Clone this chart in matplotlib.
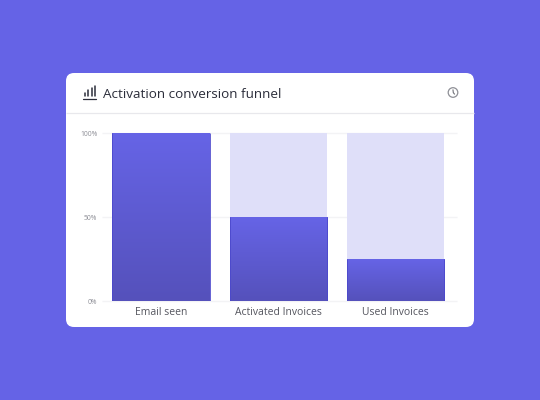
import numpy as np
import matplotlib
matplotlib.use("Agg")
import matplotlib.pyplot as plt
from matplotlib.patches import FancyBboxPatch, Circle
from matplotlib.colors import LinearSegmentedColormap

title = "Activation conversion funnel"
categories = ["Email seen", "Activated Invoices", "Used Invoices"]
values = [100, 50, 25]
track = [100, 100, 100]
yticks = [0, 50, 100]
ytick_labels = ["0%", "50%", "100%"]

BG = "#6563e6"
plt.rcParams["font.family"] = ["Open Sans", "DejaVu Sans"]
fig = plt.figure(figsize=(5.4, 4.0), dpi=100, facecolor=BG)

# pixel-space overlay for card and header
ov = fig.add_axes([0, 0, 1, 1], zorder=0)
ov.set_xlim(0, 540); ov.set_ylim(400, 0); ov.axis("off")
ov.add_patch(FancyBboxPatch((66 + 8, 73 + 8), 408 - 16, 254 - 16,
                            boxstyle="round,pad=8,rounding_size=8",
                            fc="white", ec="none"))
ov.plot([66, 474], [113, 113], color="#e8e8ec", lw=0.9, solid_capstyle="butt")
ov.text(102.8, 93.5, title, fontsize=9.7, color="#2b2d3a", va="center_baseline", ha="left")

# chart icon
ic = "#2b2d3a"
ov.plot([83.3, 96], [98.5, 98.5], color=ic, lw=0.9, solid_capstyle="round")
for x, top in zip([85.2, 88.4, 91.6, 94.6], [93, 90, 88, 86]):
    ov.plot([x, x], [96, top], color=ic, lw=1.1, solid_capstyle="round")

# clock icon
ov.add_patch(Circle((453, 92.5), 4.8, fc="none", ec="#8e8f96", lw=0.9))
ov.plot([453, 453.3, 454.4], [90, 92.6, 94], color="#6f7077", lw=0.8)

# chart
L, R, T, B = 102, 457, 133, 301
ax = fig.add_axes([L / 540, 1 - B / 400, (R - L) / 540, (B - T) / 400], zorder=1)
ax.patch.set_alpha(0)
step = 117.25
ax.set_xlim((L - 161) / step, (R - 161) / step)
ax.set_ylim(0, 100)
for s in ax.spines.values():
    s.set_visible(False)

x = np.arange(len(categories))
w = 97.5 / step
ax.bar(x, track, width=w, color="#dfdff9", zorder=2)
cmap = LinearSegmentedColormap.from_list("g", ["#5551bb", "#6664e6"])
grad = np.linspace(0, 1, 256).reshape(-1, 1)
for xi, v in zip(x, values):
    ax.imshow(grad, origin="lower", aspect="auto", cmap=cmap, zorder=3,
              extent=[xi - w / 2, xi + w / 2, 0, v])
    ax.vlines([xi - w / 2, xi + w / 2], 0, v, color="#4b48cc", lw=0.6, zorder=4)
ax.set_xlim((L - 161) / step, (R - 161) / step)
ax.set_ylim(0, 100)

ax.set_yticks(yticks, ytick_labels)
ax.set_xticks(x, categories)
ax.tick_params(axis="y", length=0, pad=3.5, labelsize=4.9, labelcolor="#8b8c94")
ax.tick_params(axis="x", length=0, pad=4.2, labelsize=7.5, labelcolor="#55565f")
ax.set_axisbelow(True)
ax.grid(axis="y", color="#f3f3f5", lw=1.0, zorder=1)
for l in ax.yaxis.get_gridlines():
    l.set_clip_on(False)
    l.set_solid_capstyle("butt")

fig.savefig("out.png", dpi=100, facecolor=BG)
